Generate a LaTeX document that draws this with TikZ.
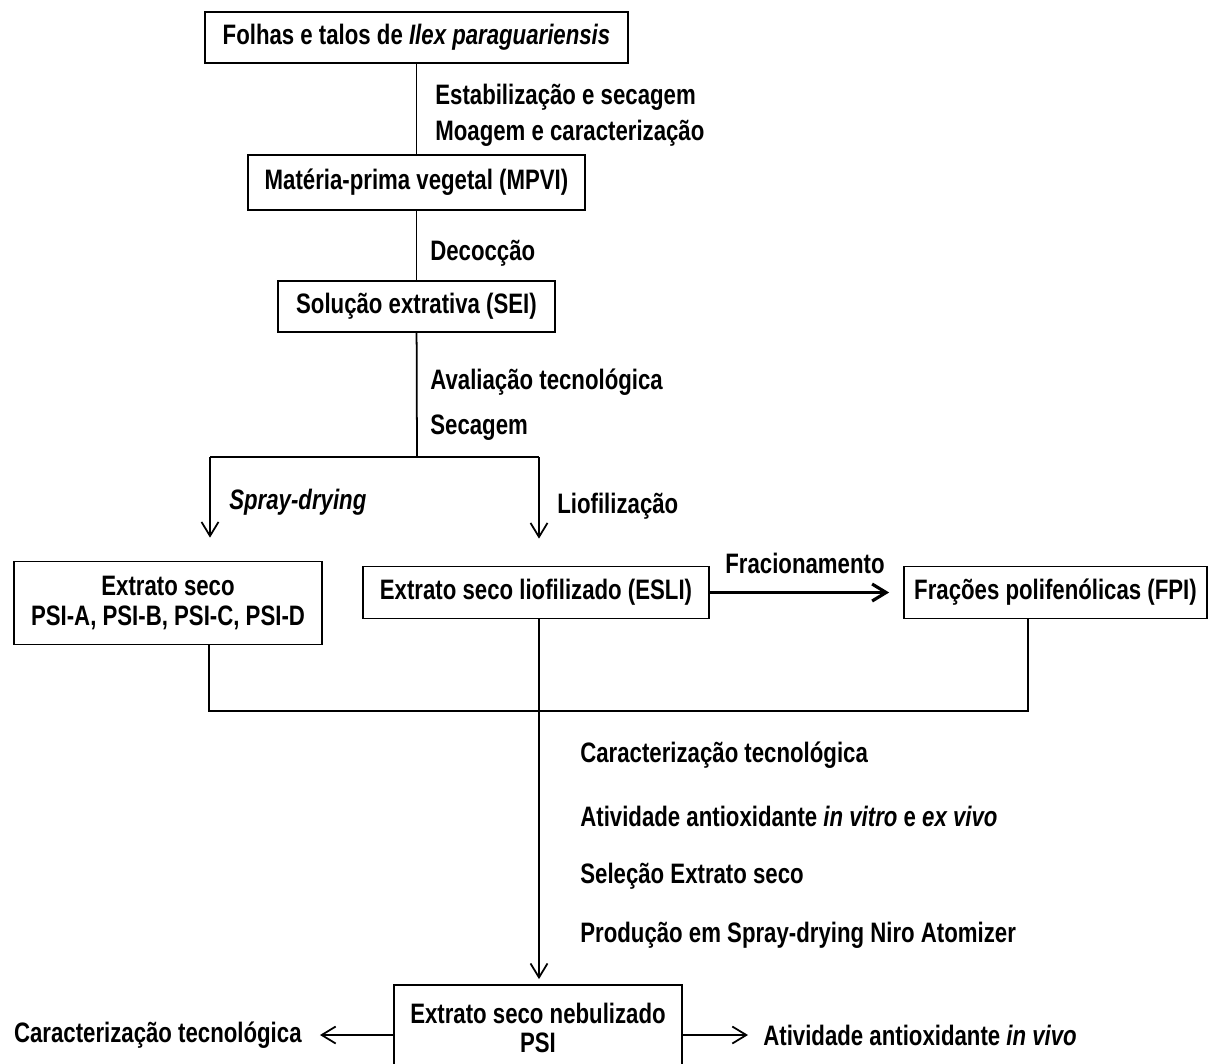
\documentclass[tikz,border=0pt]{standalone}
\usepackage{fontspec}
\setmainfont[FakeStretch=0.79]{Liberation Sans}
\usepackage{tikz}
\usetikzlibrary{arrows.meta,positioning,calc}
\newcommand{\flowfont}{\fontsize{16}{17}\selectfont\bfseries}
\tikzset{
  basebox/.style={rectangle,draw=black,line width=1pt,align=center,
                  font=\flowfont,inner sep=0pt},
  stepbox/.style={basebox,fill=white},
  lbl/.style={anchor=west,font=\flowfont,inner sep=0pt},
  link/.style={line width=1pt},
  arr/.style={-{Straight Barb[length=2.8mm,width=3.4mm]},line width=1pt},
  thkarr/.style={arr,line width=1.8pt}
}
\begin{document}
\begin{tikzpicture}[x=0.02cm,y=-0.02cm]
  \useasboundingbox (0,0) rectangle (1208,1063);
  % process boxes
  \node[stepbox,minimum width=8.46cm,minimum height=1.02cm] (folhas) at (416.5,37.5)
    {Folhas e talos de \textit{Ilex paraguariensis}};
  \node[stepbox,minimum width=6.74cm,minimum height=1.1cm] (mpvi) at (416.5,182.5)
    {Matéria-prima vegetal (MPVI)};
  \node[stepbox,minimum width=5.54cm,minimum height=1.02cm] (sei) at (416.5,306.5)
    {Solução extrativa (SEI)};
  \node[stepbox,minimum width=6.16cm,minimum height=1.66cm] (seco) at (168,603)
    {Extrato seco\\PSI-A, PSI-B, PSI-C, PSI-D};
  \node[stepbox,minimum width=6.92cm,minimum height=1.04cm] (esli) at (536,592.5)
    {Extrato seco liofilizado (ESLI)};
  \node[stepbox,minimum width=6.06cm,minimum height=1.04cm] (fpi) at (1055.5,592.5)
    {Frações polifenólicas (FPI)};
  \node[stepbox,minimum width=5.76cm,minimum height=1.72cm] (psi) at (538,1028)
    {Extrato seco nebulizado\\PSI};

  % step labels
  \node[lbl] (estab) at (435,97) {Estabilização e secagem};
  \node[lbl] (moag) at (435,133) {Moagem e caracterização};
  \node[lbl] (decoc) at (430,253) {Decocção};
  \node[lbl] (aval) at (430,382) {Avaliação tecnológica};
  \node[lbl] (secag) at (430,428) {Secagem};
  \node[lbl] (spray) at (229,502) {\textit{Spray-drying}};
  \node[lbl] (liof) at (557,506) {Liofilização};
  \node[lbl,anchor=center] (frac) at (805,563) {Fracionamento};
  \node[lbl] (ctec) at (580,755) {Caracterização tecnológica};
  \node[lbl] (ativ) at (580,816) {Atividade antioxidante \textit{in vitro} e \textit{ex vivo}};
  \node[lbl] (selec) at (580,876) {Seleção Extrato seco};
  \node[lbl] (prod) at (580,935) {Produção em Spray-drying Niro Atomizer};
  \node[lbl,anchor=east] (cfin) at (302,1035) {Caracterização tecnológica};
  \node[lbl] (afin) at (763,1035) {Atividade antioxidante \textit{in vivo}};

  % connectors
  \coordinate (split) at (417,457);
  \coordinate (lspl) at (210,457);
  \coordinate (rspl) at (539,457);
  \coordinate (jl) at (209,711);
  \coordinate (jr) at (1028,711);
  \draw[link] (folhas) -- (mpvi);
  \draw[link] (mpvi) -- (sei);
  \draw[link] (sei) -- (split);
  \draw[link] (lspl) -- (rspl);
  \draw[arr,shorten >=0.46cm] (lspl) -- (lspl |- seco.north);
  \draw[arr,shorten >=0.54cm] (rspl) -- (rspl |- esli.north);
  \draw[thkarr,shorten >=0.28cm] (esli) -- (fpi);
  \draw[link] (seco.south -| jl) -- (jl) -- (jr) -- (fpi.south -| jr);
  \draw[arr,shorten >=0.1cm] (esli.south -| rspl) -- (psi.north -| rspl);
  \draw[arr,shorten >=0.36cm] (psi.west |- cfin) -- (cfin);
  \draw[arr,shorten >=0.3cm] (psi.east |- afin) -- (afin);
\end{tikzpicture}
\end{document}
